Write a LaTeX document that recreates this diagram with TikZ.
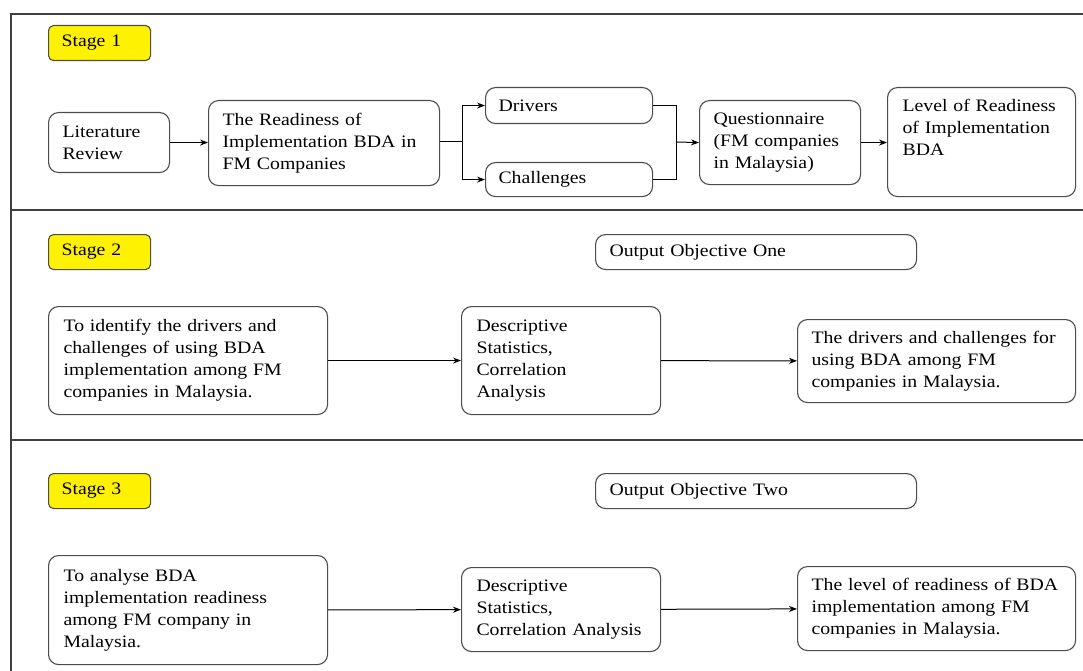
\documentclass[tikz,border=0pt]{standalone}
\usepackage{fontspec}
\setmainfont[FakeStretch=1.13]{Liberation Serif}
\usetikzlibrary{arrows.meta}
\begin{document}
\begin{tikzpicture}[x=1pt,y=-1pt,
  every node/.style={font=\fontsize{17.5}{22}\selectfont},
  box/.style={draw=black!70,line width=1.1pt,rounded corners=10pt,align=left,
    anchor=north west,inner xsep=14pt,inner ysep=0pt},
  stagebox/.style={box,fill=yellow,rounded corners=5pt,inner xsep=13pt,text width=76pt,minimum height=35pt},
  arr/.style={-{Stealth[length=8pt,width=6pt]},line width=1pt}]
  \useasboundingbox (0,0) rectangle (1083,671);
  % frame and stage separators
  \draw[black!75,line width=1.2pt] (11,671) -- (11,14) -- (1083,14);
  \draw[black!75,line width=1.2pt] (11,210) -- (1083,210);
  \draw[black!75,line width=1.2pt] (11,440) -- (1083,440);

  % stage 1
  \node[stagebox] (st1) at (48,25) {Stage 1};
  \node[box,text width=93pt,minimum height=60pt] (lit) at (48,112) {Literature\\Review};
  \node[box,text width=203pt,minimum height=85pt] (read) at (208,100) {The Readiness of\\Implementation BDA in\\FM Companies};
  \node[box,text width=141pt,minimum height=36pt,inner xsep=13pt] (drv) at (485,87) {Drivers};
  \node[box,text width=141pt,minimum height=34pt,inner xsep=13pt] (chal) at (485,162) {Challenges};
  \node[box,text width=133pt,minimum height=84pt] (quest) at (699,100) {Questionnaire\\(FM companies\\in Malaysia)};
  \node[box,text width=158pt,minimum height=109pt,inner xsep=15pt] (lvl) at (887,87) {Level of Readiness\\of Implementation\\BDA\\\strut};
  \coordinate (fork) at (462,142);
  \coordinate (join) at (676,142);
  \draw[arr] (lit) -- (read.west |- lit.east);
  \draw[line width=1pt] (read.east |- fork) -- (fork);
  \draw[arr] (fork) |- (drv.west);
  \draw[arr] (fork) |- (chal.west);
  \draw[line width=1pt] (drv.east) -| (join);
  \draw[line width=1pt] (chal.east) -| (join);
  \draw[arr] (join) -- (quest.west);
  \draw[arr] (quest) -- (lvl.west |- quest.east);

  % stage 2
  \node[stagebox] (st2) at (48,234) {Stage 2};
  \node[box,text width=293pt,minimum height=35pt] (out1) at (595,234) {Output Objective One};
  \node[box,text width=249pt,minimum height=108pt,inner xsep=15pt] (ident) at (48,306) {To identify the drivers and\\challenges of using BDA\\implementation among FM\\companies in Malaysia.};
  \node[box,text width=169pt,minimum height=108pt,inner xsep=15pt] (desc1) at (461,306) {Descriptive\\Statistics,\\Correlation\\Analysis};
  \node[box,text width=250pt,minimum height=83pt] (res1) at (797,319) {The drivers and challenges for\\using BDA among FM\\companies in Malaysia.};
  \draw[arr] (ident) -- (desc1);
  \draw[arr] (desc1) -- (res1);

  % stage 3
  \node[stagebox] (st3) at (48,473) {Stage 3};
  \node[box,text width=293pt,minimum height=35pt] (out2) at (595,473) {Output Objective Two};
  \node[box,text width=249pt,minimum height=109pt,inner xsep=15pt] (anal) at (48,555) {To analyse BDA\\implementation readiness\\among FM company in\\Malaysia.};
  \node[box,text width=169pt,minimum height=84pt,inner xsep=15pt] (desc2) at (461,567) {Descriptive\\Statistics,\\Correlation Analysis};
  \node[box,text width=250pt,minimum height=84pt] (res2) at (797,566) {The level of readiness of BDA\\implementation among FM\\companies in Malaysia.};
  \draw[arr] (anal) -- (desc2);
  \draw[arr] (desc2) -- (res2);
\end{tikzpicture}
\end{document}
